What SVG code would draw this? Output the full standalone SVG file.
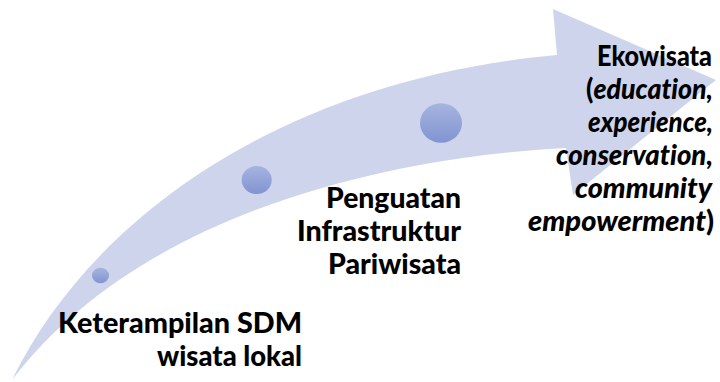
<svg xmlns="http://www.w3.org/2000/svg" width="720" height="382" viewBox="0 0 720 382">
  <defs>
    <linearGradient id="dotGrad" x1="0" y1="0" x2="0" y2="1">
      <stop offset="0" stop-color="#A6B4DF"/>
      <stop offset="1" stop-color="#8194D2"/>
    </linearGradient>
    <style>
      .lbl { font-family: Lato, "Open Sans", "Liberation Sans", sans-serif; font-weight: 900; font-size: 28px; fill: #000; font-variant-ligatures: none; font-feature-settings: "liga" 0, "clig" 0; }
      .it { font-style: italic; }
      .dot { fill: url(#dotGrad); }
      .arrow { fill: #CDD4EC; }
    </style>
  </defs>
  <rect width="720" height="382" fill="#FFFFFF"/>
  <g id="connectors">
    <path class="arrow" d="M12,380 C90,220 280,80 557,55 L553,9 L716,80 L573,195 L566,148 C420,155 150,200 12,380 Z"/>
  </g>
  <g id="dot1"><ellipse class="dot" cx="100.5" cy="275.5" rx="8.5" ry="7.8"/></g>
  <g id="dot2"><ellipse class="dot" cx="256.7" cy="180" rx="15" ry="14"/></g>
  <g id="dot3"><ellipse class="dot" cx="441" cy="123" rx="21" ry="19.7"/></g>
  <g id="node-sdm">
    <text class="lbl" x="302" y="333" text-anchor="end" textLength="244" lengthAdjust="spacingAndGlyphs">Keterampilan SDM</text>
    <text class="lbl" x="302" y="366" text-anchor="end" textLength="145" lengthAdjust="spacingAndGlyphs">wisata lokal</text>
  </g>
  <g id="node-infra">
    <text class="lbl" x="461" y="208" text-anchor="end" textLength="135" lengthAdjust="spacingAndGlyphs">Penguatan</text>
    <text class="lbl" x="461" y="241" text-anchor="end" textLength="164" lengthAdjust="spacingAndGlyphs">Infrastruktur</text>
    <text class="lbl" x="461" y="274" text-anchor="end" textLength="133" lengthAdjust="spacingAndGlyphs">Pariwisata</text>
  </g>
  <g id="node-eko">
    <text class="lbl" x="712" y="66" text-anchor="end" textLength="115" lengthAdjust="spacingAndGlyphs">Ekowisata</text>
    <text class="lbl" x="713" y="99" text-anchor="end" textLength="127" lengthAdjust="spacingAndGlyphs">(<tspan class="it">education,</tspan></text>
    <text class="lbl it" x="713" y="132" text-anchor="end" textLength="125" lengthAdjust="spacingAndGlyphs">experience,</text>
    <text class="lbl it" x="713" y="165" text-anchor="end" textLength="157" lengthAdjust="spacingAndGlyphs">conservation,</text>
    <text class="lbl it" x="712" y="198" text-anchor="end" textLength="137" lengthAdjust="spacingAndGlyphs">community</text>
    <text class="lbl" x="714" y="231" text-anchor="end" textLength="186" lengthAdjust="spacingAndGlyphs"><tspan class="it">empowerment</tspan>)</text>
  </g>
</svg>
